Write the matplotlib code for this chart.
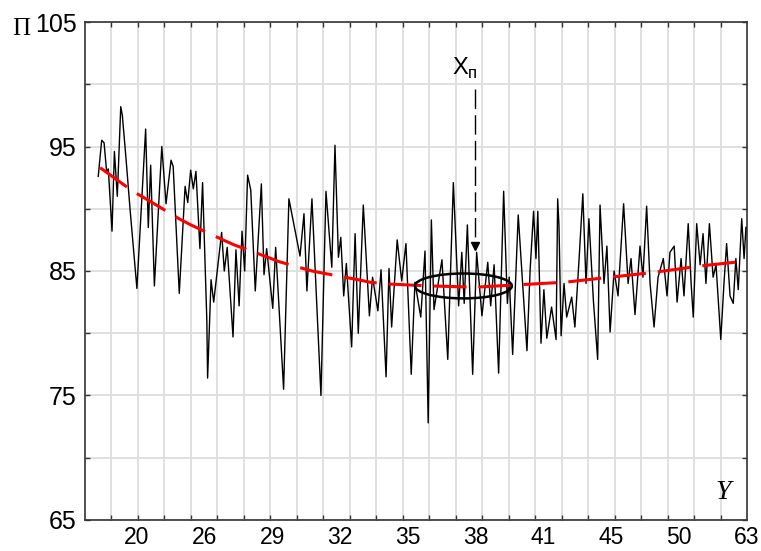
import numpy as np
import matplotlib
matplotlib.use("Agg")
import matplotlib.pyplot as plt
from matplotlib.patches import Ellipse

# black series: turning points (sample index, value)
t_obs = [5.0, 6.3, 7.2, 8.2, 8.8, 10.2, 11.1, 12.2, 13.5, 14.1, 15.5, 17.0, 18.2, 19.6,
         22.9, 23.9, 24.8, 26.2, 29.0, 30.6, 32.5, 33.3, 35.6, 37.8, 38.8, 39.9, 40.9, 41.9,
         43.4, 44.4, 46.0, 46.3, 47.6, 48.6, 51.6, 52.6, 53.7, 55.9, 57.0, 58.2, 59.3, 60.3,
         61.4, 62.6, 64.3, 66.6, 67.6, 68.6, 70.9, 72.0, 75.0, 77.0, 81.2, 82.7, 83.8, 85.7,
         89.1, 91.0, 93.2, 94.4, 95.7, 96.6, 97.7, 98.7, 100.7, 102.0, 103.2, 105.1, 107.4,
         108.6, 110.6, 111.8, 113.7, 114.8, 115.8, 117.9, 119.6, 121.2, 123.2, 124.6, 126.8,
         128.4, 129.6, 130.8, 131.8, 134.8, 137.0, 139.1, 141.1, 142.3, 143.2, 144.4, 146.4,
         147.9, 149.9, 152.1, 153.2, 154.5, 156.2, 158.1, 159.5, 160.2, 161.5, 163.6, 166.9,
         168.1, 169.4, 170.3, 171.0, 172.2, 173.3, 174.4, 176.2, 177.9, 178.5, 179.0, 179.8,
         180.9, 181.9, 183.8, 185.0, 186.6, 188.0, 189.2, 190.3, 192.0, 193.6, 194.5, 196.0,
         197.1, 198.3, 199.8, 201.3, 203.4, 205.1, 206.2, 207.7, 209.6, 210.7, 212.1, 213.4,
         214.9, 216.4, 218.4, 219.8, 220.9, 222.5, 223.6, 225.1, 226.2, 227.8, 228.9, 229.7,
         231.0, 232.3, 233.4, 234.5, 235.8, 237.2, 238.3, 240.1, 241.3, 242.3, 243.6, 244.8,
         245.8, 246.7, 248.0, 248.9, 249.6]
p_obs = [92.6, 95.5, 95.3, 92.9, 93.2, 88.2, 94.6, 91.0, 98.2, 97.5, 94.0, 90.0, 87.0, 83.6,
         96.4, 88.5, 93.5, 83.8, 95.0, 90.4, 93.9, 93.4, 83.2, 91.8, 90.5, 93.1, 91.6, 93.0,
         86.8, 92.1, 81.1, 76.4, 84.3, 82.5, 88.1, 85.0, 86.9, 79.7, 86.7, 82.2, 88.2, 85.0,
         92.7, 91.5, 83.4, 92.0, 84.7, 86.8, 82.0, 86.9, 75.5, 90.8, 86.2, 89.6, 83.4, 90.8,
         75.0, 91.4, 85.3, 95.1, 86.1, 87.7, 83.0, 85.6, 78.9, 88.0, 80.0, 90.3, 81.4,
         84.5, 81.8, 85.1, 76.5, 85.2, 80.5, 87.5, 84.2, 87.2, 76.7, 84.1, 81.3,
         86.6, 72.8, 89.1, 81.9, 85.9, 77.9, 92.1, 82.2, 86.5, 82.4, 88.7, 76.7,
         86.5, 81.4, 85.7, 82.2, 85.5, 76.8, 91.4, 82.4, 84.5, 78.3, 89.5, 78.6,
         85.1, 89.8, 86.0, 89.8, 79.2, 83.5, 79.6, 82.1, 79.5, 90.8, 88.6, 79.8,
         84.0, 81.3, 82.9, 80.5, 86.0, 91.2, 84.0, 89.2, 82.6, 77.9, 90.3, 84.0,
         87.0, 80.1, 85.0, 83.0, 90.4, 84.0, 86.0, 81.5, 87.0, 84.5, 90.2, 84.0,
         80.5, 84.5, 86.0, 83.0, 86.5, 87.0, 82.5, 86.0, 83.0, 88.8, 84.0, 81.3,
         88.8, 85.5, 88.0, 84.0, 88.8, 84.5, 85.5, 79.5, 84.0, 87.2, 83.0, 82.4,
         86.0, 83.5, 89.2, 86.0, 88.5]

# red trend curve
t_trend = [5.7, 18.1, 23.0, 35.5, 40.0, 52.1, 56.3, 69.1, 73.3, 85.7, 90.6, 103.1, 107.6,
           115.2, 130.3, 147.3, 164.3, 181.3, 198.3, 215.3, 232.2, 247.4, 250.0]
p_trend = [93.3, 91.4, 90.8, 89.2, 88.7, 87.5, 87.1, 86.1, 85.75, 85.0, 84.8, 84.3, 84.1,
           83.95, 83.8, 83.7, 83.9, 84.1, 84.5, 84.9, 85.4, 85.75, 85.85]

x_labels = ['20', '26', '29', '32', '35', '38', '41', '45', '50', '63']
x_opt = 147.1          # position of the optimum marker
p_opt = 83.8

plt.rcParams['font.family'] = ['Liberation Sans', 'DejaVu Sans']
plt.rcParams['lines.scale_dashes'] = False

fig = plt.figure(figsize=(7.61, 5.51), dpi=100)
ax = fig.add_axes([85/761, 1-520/551, 662/761, 498/551])

ax.plot(t_obs, p_obs, color='black', lw=1.0, zorder=3)
ax.plot(t_trend, p_trend, color='#ff0000', lw=2.2, dashes=(23.8, 8.6), zorder=4)

# ellipse around the optimum and dashed pointer
ax.add_patch(Ellipse((142.9, p_opt), 36.6, 2.0, fill=False, ec='black', lw=1.8, zorder=5))
ax.plot([x_opt, x_opt], [99.6, 87.0], color='black', lw=1.0, dashes=(14, 4.5), zorder=5)
ax.plot([x_opt], [87.0], marker='v', ms=6, color='black', zorder=5)
ax.text(x_opt - 2.4, 101.3, 'X', fontsize=17, ha='right', va='center')
ax.text(x_opt - 2.4, 100.9, 'п', fontsize=12, ha='left', va='center')

ax.set_xlim(0, 250)
ax.set_ylim(65, 105)

ax.set_xticks(np.linspace(19.6, 250, len(x_labels)))
ax.set_xticklabels(x_labels)
ax.set_xticks(np.arange(10, 250, 10), minor=True)
ax.set_yticks(np.arange(65, 106, 10))
ax.set_yticks(np.arange(70, 105, 10), minor=True)

ax.tick_params(axis='x', which='major', length=0, pad=4.5, labelsize=16.5)
ax.tick_params(axis='x', which='minor', direction='in', length=3.3, width=1.0,
               top=True, bottom=True, color='#333333')
ax.tick_params(axis='y', which='both', direction='in', length=3.3, width=1.0,
               left=True, right=True, labelsize=18, pad=6, color='#333333')

ax.grid(True, which='minor', axis='x', color='#dddddd', lw=1.3)
ax.grid(True, which='both', axis='y', color='#dddddd', lw=1.3)
ax.set_axisbelow(True)
for s in ax.spines.values():
    s.set_linewidth(1.2)
    s.set_color('#333333')

ax.text(0.964, 0.056, 'Y', transform=ax.transAxes, fontsize=20, style='italic',
        family='Liberation Serif', ha='center', va='center')
fig.text(0.0276, 0.947, 'П', fontsize=18, family='Liberation Serif',
         ha='center', va='center')

fig.savefig('out.png', dpi=100)
